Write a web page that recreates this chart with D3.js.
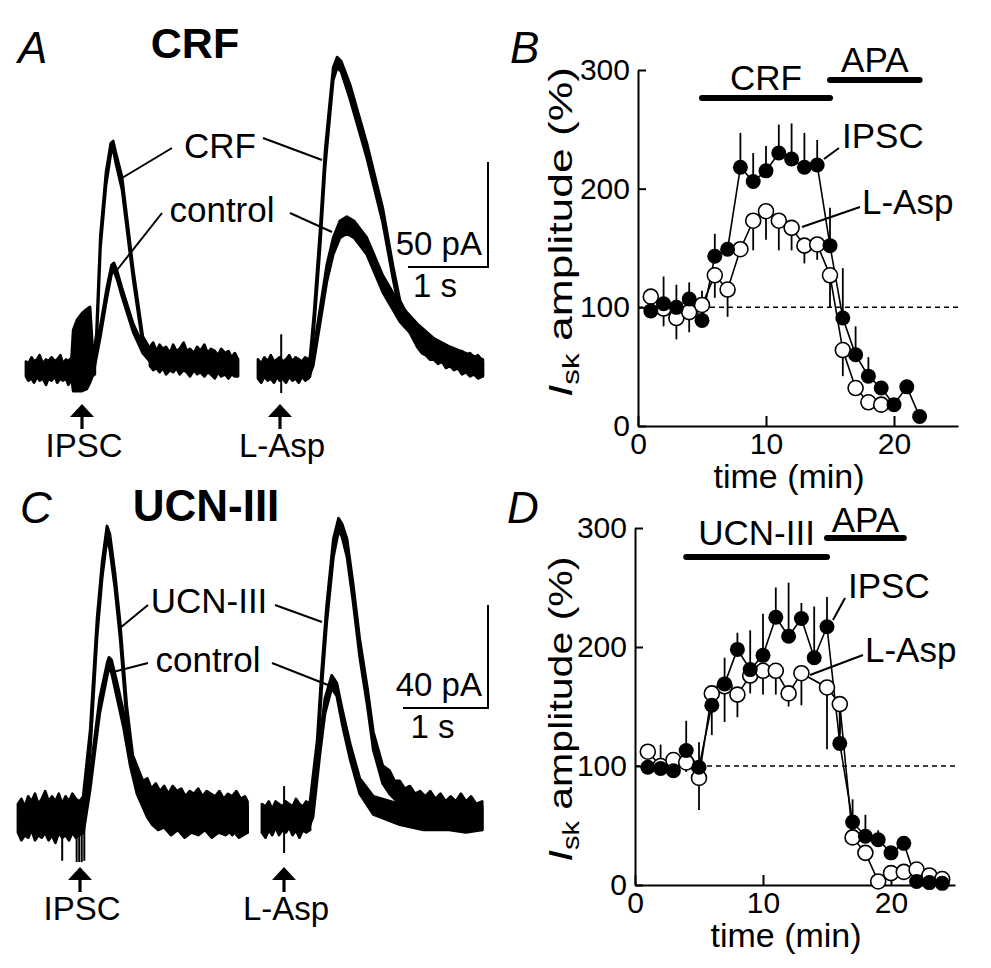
<!DOCTYPE html>
<html>
<head>
<meta charset="utf-8">
<script src="https://cdn.jsdelivr.net/npm/d3@7"></script>
<style>
body { margin: 0; background: #fff; }
text { font-family: "Liberation Sans", Arial, sans-serif; fill: #000; }
</style>
</head>
<body>
<svg id="fig" width="991" height="968"></svg>
<script>
// ---- traces, [time (s), low (pA), high (pA)] envelope of the noisy record ----
// panel A, IPSC sweep
var aLeftBase = [[0,-3,4],[0.03,-5,3],[0.07,-4,6],[0.1,-6,4],[0.14,-3,5],[0.17,-5,7],[0.21,-4,3],[0.25,-7,5],[0.28,-4,4],[0.32,-5,6],
  [0.36,-3,4],[0.39,-6,5],[0.43,-4,7],[0.46,-5,3],[0.5,-4,5],[0.53,-7,4],[0.57,-4,6],
  [0.59,-10,19],[0.64,-10,24],[0.7,-10,27],[0.76,-9,29],[0.8,-6,30],[0.83,-3,12],[0.86,-2,6]];
var aLeftCrf = [[0.84,-2,6],[0.88,10,17],[0.93,58,64],[1.0,88,94],[1.06,103,108],[1.09,105,109],[1.12,99,104],[1.2,86,92],[1.34,43,48],[1.46,12,16],[1.55,4,10]];
var aLeftCtl = [[0.84,-2,6],[0.93,16,21],[1.01,34,39],[1.07,46,50],[1.1,47,51],[1.14,43,47],[1.2,35,39],[1.34,18,22],[1.46,8,12],[1.55,4,10]];
var aLeftPost = [[1.55,2,11],[1.59,0,13],[1.63,1,9],[1.67,-1,12],[1.71,1,10],[1.75,-2,11],[1.8,0,8],[1.84,-1,12],[1.88,1,9],[1.92,-2,10],
  [1.97,0,13],[2.01,-1,9],[2.05,-3,10],[2.1,0,8],[2.14,-2,11],[2.18,-1,9],[2.23,-3,12],[2.27,-1,8],[2.31,-2,10],[2.36,-4,9],
  [2.4,-1,7],[2.44,-3,10],[2.49,-2,8],[2.53,-4,9],[2.57,-2,6],[2.61,-3,8],[2.65,-3,5]];
// panel A, L-Asp sweep
var aRightBase = [[0,-4,5],[0.04,-6,3],[0.08,-3,6],[0.12,-5,4],[0.16,-4,7],[0.2,-6,4],[0.24,-3,5],[0.27,-5,6],[0.31,-4,4],[0.35,-6,5],
  [0.39,-3,7],[0.43,-5,4],[0.47,-4,6],[0.51,-6,5],[0.55,-3,4],[0.59,-5,6],[0.63,-4,5],[0.65,-3,5]];
var aRightSpikes = [[0.29,-11,17]];
var aRightCrf = [[0.65,-2,6],[0.7,20,27],[0.775,58,66],[0.84,97,105],[0.94,138,144],[0.99,144,149],[1.04,142,147],[1.15,129,136],[1.36,101,108],[1.56,70,77],
  [1.69,43,49],[1.775,27,33],[1.99,11,17],[2.05,8,16],[2.1,7,13],[2.15,5,14],[2.2,5,11],[2.25,3,12],[2.3,4,10],[2.35,1,11],[2.4,2,9],
  [2.45,0,10],[2.5,1,8],[2.55,-2,9],[2.6,-1,7],[2.65,-3,8],[2.7,-2,6],[2.75,-4,7],[2.81,-3,4]];
var aRightCtl = [[0.65,-2,6],[0.69,2,8],[0.86,42,50],[0.94,55,63],[1.025,63,71],[1.11,65,73],[1.2,63,71],[1.36,55,63],[1.56,37,45],[1.775,23,31],
  [1.99,14,22],[2.2,7,15],[2.4,2,11],[2.6,-1,8],[2.81,-3,5]];
// panel C, IPSC sweep
var cLeftBase = [[0,-6,5],[0.04,-9,7],[0.08,-7,4],[0.12,-8,8],[0.16,-5,6],[0.2,-9,9],[0.24,-7,5],[0.28,-8,7],[0.32,-6,10],[0.36,-9,6],
  [0.4,-7,8],[0.44,-10,6],[0.48,-6,9],[0.52,-8,5],[0.56,-7,8],[0.6,-9,6],[0.64,-6,9],[0.68,-8,7],[0.72,-7,6],[0.77,-6,8]];
var cLeftSpikes = [[0.52,-17,2],[0.69,-17.5,4],[0.72,-17.5,4],[0.75,-17.5,4],[0.78,-17,4]];
var cLeftUcn = [[0.77,-4,9],[0.85,26,34],[0.93,70,77],[0.99,93,99],[1.047,108,113],[1.08,104,110],[1.14,89,95],[1.2,70,76],[1.28,37,43],[1.35,18,24],
  [1.47,6,14],[1.52,4,15],[1.57,3,11],[1.62,2,13],[1.67,0,10],[1.72,1,12],[1.77,-1,9],[1.82,-2,12],[1.87,0,10],[1.92,-3,11],
  [1.97,-2,8],[2.02,-4,10],[2.07,-3,9],[2.12,-5,11],[2.17,-4,8],[2.22,-5,10],[2.27,-3,9],[2.32,-6,8],[2.37,-4,10],[2.42,-6,7],
  [2.47,-5,9],[2.52,-7,8],[2.57,-5,10],[2.62,-6,7],[2.67,-5,8],[2.7,-6,6]];
var cLeftCtl = [[0.77,-6,6],[0.85,11,17],[0.96,40,46],[1.05,55,60],[1.07,58,62],[1.1,56,61],[1.16,47,53],[1.24,35,41],[1.32,20,26],[1.4,9,15],
  [1.52,0,7],[1.58,-3,6],[1.65,-5,5],[1.72,-4,3],[1.8,-7,5],[1.88,-5,4],[1.96,-8,5],[2.04,-6,3],[2.12,-7,6],[2.2,-5,4],
  [2.28,-8,5],[2.36,-6,3],[2.44,-7,6],[2.52,-5,4],[2.6,-8,5],[2.7,-6,4]];
// panel C, L-Asp sweep
var cRightBase = [[0,-6,5],[0.04,-8,4],[0.08,-5,6],[0.12,-7,3],[0.16,-4,6],[0.2,-7,5],[0.24,-5,4],[0.28,-6,6],[0.32,-4,5],[0.36,-7,4],
  [0.4,-5,7],[0.44,-8,5],[0.48,-5,4],[0.52,-6,6],[0.565,-5,5]];
var cRightSpikes = [[0.26,-14,12]];
var cRightUcn = [[0.565,-3,6],[0.65,23,30],[0.7,49,56],[0.76,75,82],[0.84,101,108],[0.9,111,116],[0.94,109,114],[1.0,101,108],[1.07,84,91],[1.15,62,69],
  [1.24,43,50],[1.31,26,33],[1.42,13,20],[1.5,9,18],[1.56,7,14],[1.62,5,14],[1.68,3,11],[1.74,2,12],[1.8,1,9],[1.86,-1,10],
  [1.92,0,8],[1.98,-2,10],[2.04,-1,7],[2.1,-3,9],[2.16,-2,6],[2.22,-4,8],[2.28,-3,6],[2.34,-5,9],[2.4,-4,6],[2.46,-5,8],[2.52,-3,5],[2.59,-5,6]];
var cRightCtl = [[0.565,-3,6],[0.6,0,6],[0.68,24,30],[0.74,40,46],[0.82,50,55],[0.88,47,52],[0.95,35,41],[1.04,22,28],[1.15,9,15],[1.31,1,8],
  [1.62,-3,5],[1.9,-5,4],[2.2,-5,5],[2.4,-6,4],[2.59,-5,4]];

// ---- summary time courses (% of control) ----
var timeB = d3.range(1, 23);
var ipscB = [97,103,100,107,89,143,149,218,206,215,230,225,218,220,152,91,60,42,32,18,33,8];
var ipscBErr = [8,23,19,14,25,19,5,29,24,21,24,30,29,21,32,42,24,16,6,5,6,0];
var laspB = [109,99,91,96,102,127,115,149,173,181,173,167,152,153,127,64,32,20,18];
var laspBErr = [5,15,18,17,5,19,23,5,25,24,25,19,15,13,27,22,3,5,6];

var timeD = d3.range(1, 25);
var ipscD = [99,98,96,113,99,151,169,198,181,193,225,209,224,191,217,119,53,41,38,27,35,3,2,1.4];
var ipscDErr = [5,20,8,25,21,5,22,14,33,35,25,45,13,43,25,30,19,18,8,4,4,0,0,0];
var laspD = [112,100,105,103,90,161,167,160,176,180,180,161,178,null,166,152,40,27,3,10,11,13,8,5];
var laspDErr = [0,0,10,8,27,35,30,19,15,20,20,11,27,0,52,25,5,5,3,5,3,3,3,2];

var drugB = [["CRF", 5, 15], ["APA", 15, 22]];
var drugD = [["UCN-III", 4, 15], ["APA", 15, 21]];
var yTicks = [0, 100, 200, 300];
var xTicks = [0, 10, 20];

var svg = d3.select("#fig");

function label(x, y, txt, size, anchor) {
  return svg.append("text").attr("x", x).attr("y", y).attr("font-size", size)
    .attr("text-anchor", anchor || "start").text(txt);
}

function band(pts, xs, ys) {
  svg.append("path").datum(pts)
    .attr("d", d3.area().x(function(d){ return xs(d[0]); })
      .y0(function(d){ return ys(d[1]); }).y1(function(d){ return ys(d[2]); }))
    .attr("fill", "#000").attr("stroke", "#000")
    .attr("stroke-width", 2.8).attr("stroke-linejoin", "round");
}

function spikes(pts, xs, ys) {
  svg.selectAll(null).data(pts).enter().append("line")
    .attr("x1", function(d){ return xs(d[0]); }).attr("x2", function(d){ return xs(d[0]); })
    .attr("y1", function(d){ return ys(d[1]); }).attr("y2", function(d){ return ys(d[2]); })
    .attr("stroke", "#000").attr("stroke-width", 2);
}

function leader(x1, y1, x2, y2) {
  svg.append("line").attr("x1", x1).attr("y1", y1).attr("x2", x2).attr("y2", y2)
    .attr("stroke", "#000").attr("stroke-width", 2);
}

function arrow(x, yTip, txt) {
  svg.append("path").attr("d", "M" + x + "," + yTip + "l-12,13h24z").attr("fill", "#000");
  svg.append("line").attr("x1", x).attr("x2", x).attr("y1", yTip + 10).attr("y2", yTip + 25)
    .attr("stroke", "#000").attr("stroke-width", 3.2);
  label(x + 2, yTip + 53, txt, 33, "middle");
}

function scaleBar(xs, ys, cornerX, cornerY, pA, txt) {
  var h = ys(0) - ys(pA), w = xs(1) - xs(0);
  svg.append("path").attr("d", "M" + (cornerX - w) + "," + cornerY + "H" + cornerX + "V" + (cornerY - h))
    .attr("fill", "none").attr("stroke", "#000").attr("stroke-width", 2);
  label(cornerX - 6, cornerY - 12, txt, 33, "end");
  label(cornerX - w / 2 - 13, cornerY + 30, "1 s", 33, "middle");
}

// ================= panel A =================
var yA = d3.scaleLinear().domain([0, 50]).range([370, 265]);
var xAL = d3.scaleLinear().domain([0, 1]).range([26, 106]);
var xAR = d3.scaleLinear().domain([0, 1]).range([258, 338]);
band(aLeftBase, xAL, yA); band(aLeftCtl, xAL, yA); band(aLeftCrf, xAL, yA); band(aLeftPost, xAL, yA);
band(aRightBase, xAR, yA); band(aRightCtl, xAR, yA); band(aRightCrf, xAR, yA);
spikes(aRightSpikes, xAR, yA);
scaleBar(xAL, yA, 488, 267, 50, "50 pA");
label(18, 63, "A", 44).attr("font-style", "italic");
label(195, 58, "CRF", 43, "middle").attr("font-weight", "bold");
label(220, 158, "CRF", 35, "middle");
label(222, 222, "control", 35, "middle");
leader(172, 148, 122, 178); leader(263, 138, 322, 160);
leader(162, 213, 117, 270); leader(290, 213, 332, 232);
arrow(82, 404, "IPSC"); arrow(280, 404, "L-Asp");

// ================= panel C =================
var yC = d3.scaleLinear().domain([0, 40]).range([817, 714]);
var xCL = d3.scaleLinear().domain([0, 1]).range([18, 103]);
var xCR = d3.scaleLinear().domain([0, 1]).range([262, 347]);
band(cLeftBase, xCL, yC); band(cLeftCtl, xCL, yC); band(cLeftUcn, xCL, yC);
spikes(cLeftSpikes, xCL, yC);
band(cRightBase, xCR, yC); band(cRightCtl, xCR, yC); band(cRightUcn, xCR, yC);
spikes(cRightSpikes, xCR, yC);
scaleBar(xCL, yC, 488, 708, 40, "40 pA");
label(20, 523, "C", 44).attr("font-style", "italic");
label(206, 521, "UCN-III", 44, "middle").attr("font-weight", "bold");
label(209, 613, "UCN-III", 35, "middle");
label(208, 672, "control", 35, "middle");
leader(148, 605, 120, 628); leader(275, 605, 322, 622);
leader(148, 663, 113, 672); leader(272, 663, 328, 685);
arrow(80, 867, "IPSC"); arrow(284, 867, "L-Asp");

// ================= summary panels =================
function summary(cfg) {
  var x = d3.scaleLinear().domain([0, 25]).range([cfg.left, cfg.right]);
  var y = d3.scaleLinear().domain([0, 300]).range([cfg.bottom, cfg.top]);
  var g = svg.append("g");

  var ax = g.append("g").attr("transform", "translate(0," + cfg.bottom + ")")
    .call(d3.axisBottom(x).tickValues(xTicks).tickSizeInner(-10).tickSizeOuter(0).tickPadding(6));
  var ay = g.append("g").attr("transform", "translate(" + cfg.left + ",0)")
    .call(d3.axisLeft(y).tickValues(yTicks).tickSizeInner(-8).tickSizeOuter(0).tickPadding(8));
  [ax, ay].forEach(function(a) {
    a.attr("font-size", 30).attr("font-family", '"Liberation Sans", Arial, sans-serif');
    a.selectAll("path, line").attr("stroke", "#000").attr("stroke-width", 2);
    a.selectAll("text").attr("fill", "#000");
  });
  ax.selectAll(".tick text").attr("dy", "0.72em");

  g.append("line").attr("x1", x(0)).attr("x2", x(25)).attr("y1", y(100)).attr("y2", y(100))
    .attr("stroke", "#000").attr("stroke-width", 1.5).attr("stroke-dasharray", "5,4");

  // drug application bars
  cfg.drugs.forEach(function(d, i) {
    var yy = cfg.barY[i];
    g.append("line").attr("x1", x(d[1])).attr("x2", x(d[2])).attr("y1", yy).attr("y2", yy)
      .attr("stroke", "#000").attr("stroke-width", 6).attr("stroke-linecap", "round");
    g.append("text").attr("x", x((d[1] + d[2]) / 2)).attr("y", yy - cfg.barGap[i])
      .attr("text-anchor", "middle").attr("font-size", 35).text(d[0]);
  });

  var open = cfg.lasp.map(function(v, i){ return {t: cfg.tL[i], v: v, e: cfg.laspErr[i]}; })
    .filter(function(d){ return d.v !== null; });
  var fill = cfg.ipsc.map(function(v, i){ return {t: cfg.tI[i], v: v, e: cfg.ipscErr[i]}; });
  var line = d3.line().x(function(d){ return x(d.t); }).y(function(d){ return y(d.v); });

  g.append("path").datum(open).attr("d", line).attr("fill", "none").attr("stroke", "#000").attr("stroke-width", 1.6);
  g.append("path").datum(fill).attr("d", line).attr("fill", "none").attr("stroke", "#000").attr("stroke-width", 1.6);
  g.selectAll(null).data(fill).enter().append("line")
    .attr("x1", function(d){ return x(d.t); }).attr("x2", function(d){ return x(d.t); })
    .attr("y1", function(d){ return y(d.v); }).attr("y2", function(d){ return y(d.v + d.e); })
    .attr("stroke", "#000").attr("stroke-width", 1.8);
  g.selectAll(null).data(open).enter().append("line")
    .attr("x1", function(d){ return x(d.t); }).attr("x2", function(d){ return x(d.t); })
    .attr("y1", function(d){ return y(d.v); }).attr("y2", function(d){ return y(d.v - d.e); })
    .attr("stroke", "#000").attr("stroke-width", 1.8);
  g.selectAll(null).data(open).enter().append("circle")
    .attr("cx", function(d){ return x(d.t); }).attr("cy", function(d){ return y(d.v); })
    .attr("r", 7.5).attr("fill", "#fff").attr("stroke", "#000").attr("stroke-width", 1.6);
  g.selectAll(null).data(fill).enter().append("circle")
    .attr("cx", function(d){ return x(d.t); }).attr("cy", function(d){ return y(d.v); })
    .attr("r", 7.5).attr("fill", "#000");

  // y title
  var yt = g.append("text").attr("transform", "translate(572," + cfg.titleY + ") rotate(-90)")
    .attr("text-anchor", "middle").attr("font-size", 34)
    .attr("textLength", cfg.titleLen).attr("lengthAdjust", "spacingAndGlyphs");
  yt.append("tspan").attr("font-style", "italic").text("I");
  yt.append("tspan").attr("font-size", 24).attr("dy", 7).text("sk");
  yt.append("tspan").attr("dy", -7).text(" amplitude (%)");

  g.append("text").attr("x", x(11.8)).attr("y", cfg.bottom + 62).attr("text-anchor", "middle")
    .attr("font-size", 34).text("time (min)");

  // series labels with leaders
  leader(cfg.ipscLead[0], cfg.ipscLead[1], cfg.ipscLead[2], cfg.ipscLead[3]);
  leader(cfg.laspLead[0], cfg.laspLead[1], cfg.laspLead[2], cfg.laspLead[3]);
  label(cfg.ipscLead[2] + 3, cfg.ipscLead[3], "IPSC", 35);
  label(cfg.laspLead[2] + 2, cfg.laspLead[3] + 7, "L-Asp", 35);
}

summary({left: 638, right: 958, top: 70, bottom: 426, tI: timeB, ipsc: ipscB, ipscErr: ipscBErr,
  tL: timeB, lasp: laspB, laspErr: laspBErr, drugs: drugB, barY: [98, 80], barGap: [8, 8],
  titleY: 232, titleLen: 330, ipscLead: [824, 159, 839, 148], laspLead: [802, 227, 860, 207]});
summary({left: 635, right: 955, top: 528, bottom: 885, tI: timeD, ipsc: ipscD, ipscErr: ipscDErr,
  tL: timeD, lasp: laspD, laspErr: laspDErr, drugs: drugD, barY: [557, 538], barGap: [12, 6],
  titleY: 709, titleLen: 305, ipscLead: [833, 620, 845, 598], laspLead: [810, 675, 863, 655]});

label(510, 63, "B", 44).attr("font-style", "italic");
label(507, 523, "D", 44).attr("font-style", "italic");
</script>
</body>
</html>
